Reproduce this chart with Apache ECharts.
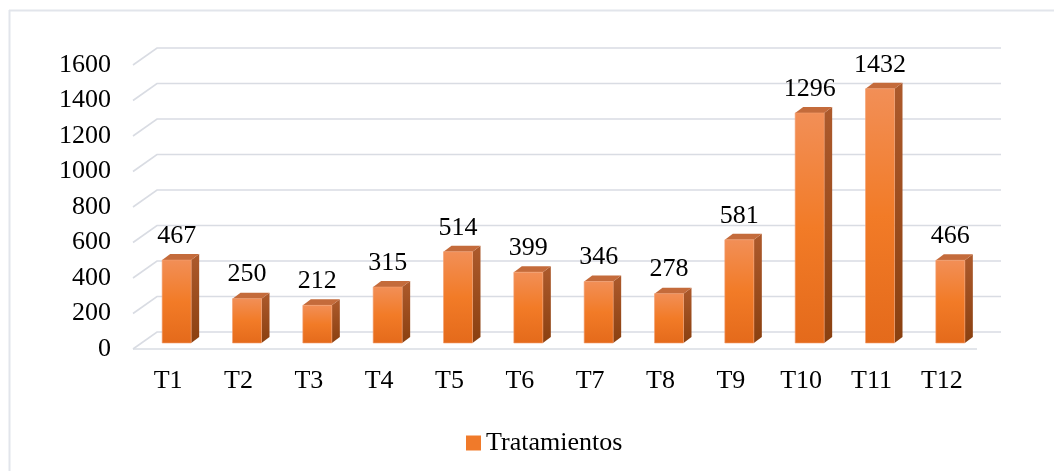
<!DOCTYPE html>
<html>
<head>
<meta charset="utf-8">
<script src="https://cdn.jsdelivr.net/npm/echarts@6/dist/echarts.min.js"></script>
<style>
  html, body { margin: 0; padding: 0; background: #fff; }
  #chart { width: 1054px; height: 471px; }
</style>
</head>
<body>
<div id="chart"></div>
<script>
// Treatment totals
const categories = ['T1', 'T2', 'T3', 'T4', 'T5', 'T6', 'T7', 'T8', 'T9', 'T10', 'T11', 'T12'];
const values = [467, 250, 212, 315, 514, 399, 346, 278, 581, 1296, 1432, 466];
const yTicks = [0, 200, 400, 600, 800, 1000, 1200, 1400, 1600];
const seriesName = 'Tratamientos';

const FONT = "'Liberation Serif', 'Times New Roman', serif";
const FONT_SIZE = 26;

// Pseudo-3D depth offsets (px): back wall and bar front plane
const BACK = [24, -17];
const BAR_PLANE = [8.5, -6];
const BAR_W = 29;
const BAR_DEPTH = [8, -6];

const chart = echarts.init(document.getElementById('chart'));

function gridRender(params, api) {
  const cs = params.coordSys;
  const v = api.value(0);
  const y = api.coord([0, v])[1];
  const x0 = cs.x, x1 = cs.x + cs.width;
  const children = [{
    type: 'polyline',
    shape: { points: [[x0, y], [x0 + BACK[0], y + BACK[1]], [x1 + BACK[0], y + BACK[1]]] },
    style: { stroke: '#d9dce3', lineWidth: 1.6, fill: null },
    silent: true
  }];
  if (v === 0) {
    children.push({
      type: 'line',
      shape: { x1: x0, y1: y, x2: x1, y2: y },
      style: { stroke: '#d9dce3', lineWidth: 1.6 },
      silent: true
    });
  }
  return { type: 'group', children };
}

function barRender(params, api) {
  const idx = api.value(0);
  const v = api.value(1);
  const base = api.coord([idx, 0]);
  const top = api.coord([idx, v]);
  const cx = base[0] + BAR_PLANE[0];
  const xl = cx - BAR_W / 2, xr = cx + BAR_W / 2;
  const yb = base[1] + BAR_PLANE[1];
  const yt = top[1] + BAR_PLANE[1];
  const dx = BAR_DEPTH[0], dy = BAR_DEPTH[1];
  return {
    type: 'group',
    children: [
      {
        type: 'polygon',
        shape: { points: [[xr, yt], [xr + dx, yt + dy], [xr + dx, yb + dy], [xr, yb]] },
        style: {
          fill: new echarts.graphic.LinearGradient(0, 0, 0, 1, [
            { offset: 0, color: '#ad5a2c' },
            { offset: 1, color: '#8a4010' }
          ])
        }
      },
      {
        type: 'polygon',
        shape: { points: [[xl, yt], [xl + dx, yt + dy], [xr + dx, yt + dy], [xr, yt]] },
        style: { fill: '#c46b3b' }
      },
      {
        type: 'rect',
        shape: { x: xl, y: yt, width: BAR_W, height: yb - yt },
        style: {
          fill: new echarts.graphic.LinearGradient(0, 0, 0, 1, [
            { offset: 0, color: '#f28f57' },
            { offset: 0.5, color: '#f27b27' },
            { offset: 1, color: '#e46a1b' }
          ]),
          stroke: '#f4a070',
          lineWidth: 0.6
        }
      },
      {
        type: 'text',
        style: {
          x: cx, y: yt + dy - 5,
          text: String(v),
          align: 'center', verticalAlign: 'bottom',
          font: FONT_SIZE + 'px ' + FONT,
          fill: '#000'
        }
      }
    ]
  };
}

chart.setOption({
  animation: false,
  backgroundColor: '#ffffff',
  graphic: [
    { type: 'line', shape: { x1: 9.5, y1: 10, x2: 9.5, y2: 471 }, style: { stroke: '#e2e5eb', lineWidth: 2 } },
    { type: 'line', shape: { x1: 9, y1: 10.5, x2: 1054, y2: 10.5 }, style: { stroke: '#e2e5eb', lineWidth: 2 } }
  ],
  grid: { left: 133, right: 77, top: 65, bottom: 122 },
  legend: {
    data: [seriesName],
    left: 461,
    top: 425,
    icon: 'rect',
    itemWidth: 15,
    itemHeight: 15,
    itemGap: 6,
    textStyle: { fontFamily: FONT, fontSize: FONT_SIZE, color: '#000' }
  },
  xAxis: {
    type: 'category',
    data: categories,
    axisLine: { show: false },
    axisTick: { show: false },
    axisLabel: { fontFamily: FONT, fontSize: FONT_SIZE, color: '#000', margin: 19 }
  },
  yAxis: {
    type: 'value',
    min: 0,
    max: 1600,
    interval: 200,
    axisLine: { show: false },
    axisTick: { show: false },
    splitLine: { show: false },
    axisLabel: {
      fontFamily: FONT, fontSize: FONT_SIZE, color: '#000', margin: 22,
      formatter: v => String(v)
    }
  },
  series: [
    {
      type: 'custom',
      name: 'grid',
      silent: true,
      renderItem: gridRender,
      data: yTicks.map(v => [v]),
      encode: { y: 0 },
      z: 1
    },
    {
      type: 'custom',
      name: seriesName,
      renderItem: barRender,
      itemStyle: { color: '#f07a2a' },
      data: values.map((v, i) => [i, v]),
      encode: { x: 0, y: 1 },
      z: 2
    }
  ]
});
</script>
</body>
</html>
